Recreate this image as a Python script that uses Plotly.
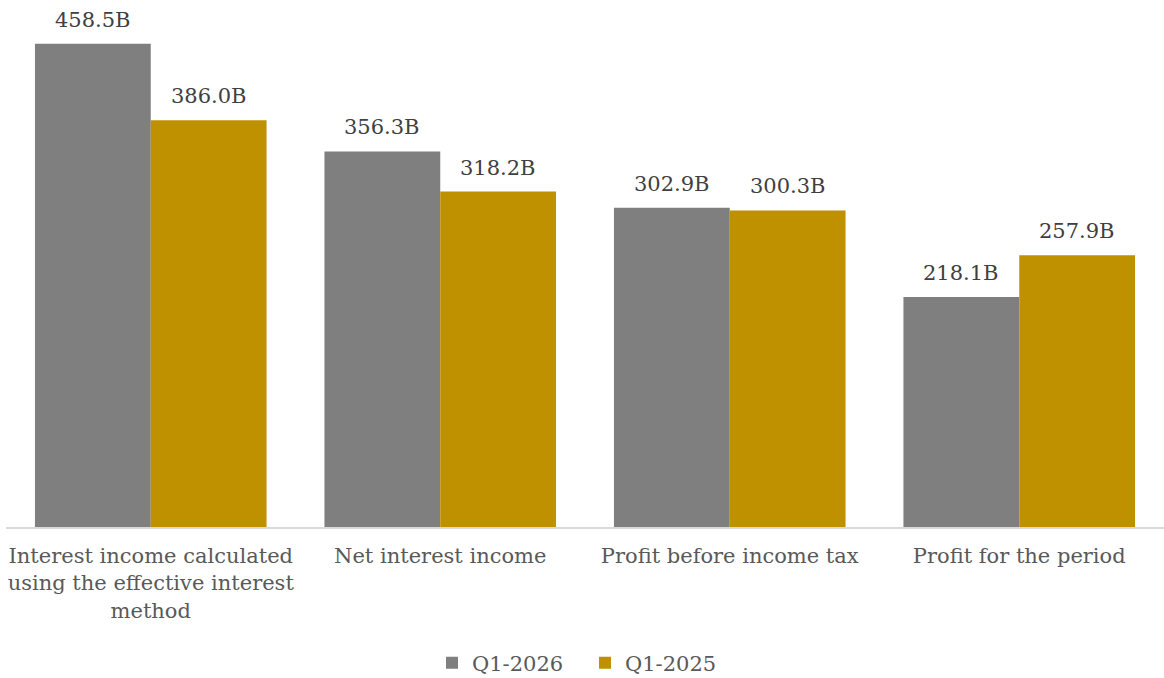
import plotly.graph_objects as go

categories = [
    "Interest income calculated<br>using the effective interest<br>method",
    "Net interest income",
    "Profit before income tax",
    "Profit for the period",
]
q1_2026 = [458.5, 356.3, 302.9, 218.1]
q1_2025 = [386.0, 318.2, 300.3, 257.9]

FONT = "Georgia, 'DejaVu Serif', serif"
TXT = "#595959"
W, H = 1164, 678
ML, MR, MT, MB = 6, 0, 0, 151
BARGAP = 0.2

fig = go.Figure()
series = [("Q1-2026", q1_2026, "#7f7f7f"), ("Q1-2025", q1_2025, "#bf9000")]
for name, vals, col in series:
    fig.add_trace(go.Bar(
        x=categories, y=vals, name=name,
        marker=dict(color=col, line=dict(width=0)),
    ))

# value labels above bars
cat_px = (W - ML - MR) / len(categories)
bar_px = cat_px * (1 - BARGAP) / len(series)
for j, (name, vals, col) in enumerate(series):
    shift = (j - (len(series) - 1) / 2) * bar_px
    for c, v in zip(categories, vals):
        fig.add_annotation(
            x=c, y=v, xref="x", yref="y", text=f"{v:.1f}B", showarrow=False,
            xshift=shift, yshift=10, yanchor="bottom",
            font=dict(family=FONT, size=21, color="#404040"),
        )

fig.update_layout(
    width=W, height=H,
    margin=dict(l=ML, r=MR, t=MT, b=MB, autoexpand=False),
    paper_bgcolor="white", plot_bgcolor="white",
    barmode="group", bargap=BARGAP, bargroupgap=0,
    font=dict(family=FONT, size=21, color=TXT),
    showlegend=True,
    legend=dict(orientation="h", x=0.5, xanchor="center",
                yref="container", y=1 - 663 / H, yanchor="middle",
                font=dict(family=FONT, size=21, color=TXT), itemwidth=30,
                entrywidth=108, entrywidthmode="pixels"),
    xaxis=dict(showline=True, linecolor="#d9d9d9", linewidth=1.5, ticks="",
               tickfont=dict(family=FONT, size=21, color=TXT), ticklabelstandoff=9,
               automargin=False),
    yaxis=dict(range=[0, 500], visible=False, showgrid=False, automargin=False),
)
fig.write_html("out.html")
